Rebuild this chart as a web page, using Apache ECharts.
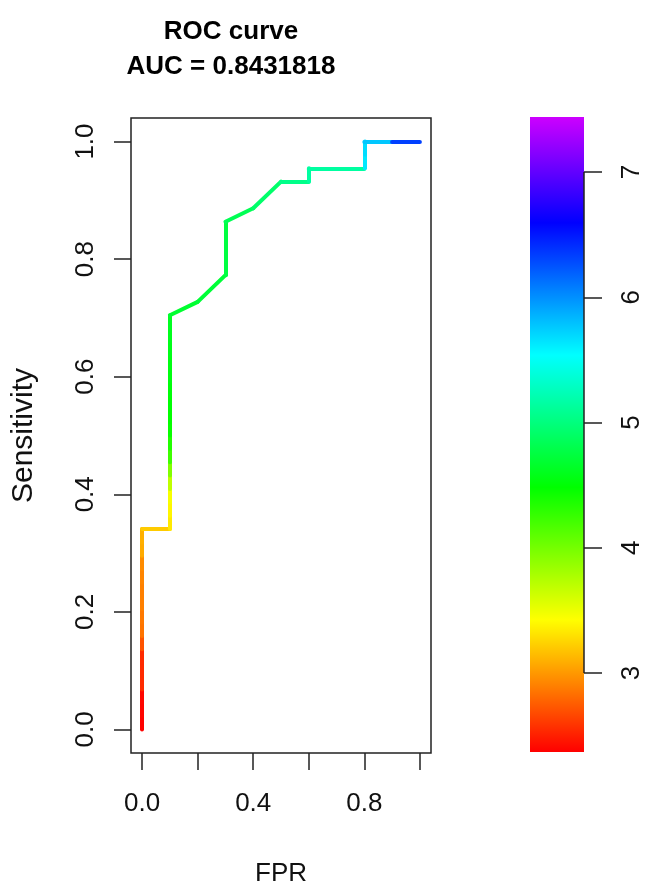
<!DOCTYPE html>
<html>
<head>
<meta charset="utf-8">
<script src="https://cdn.jsdelivr.net/npm/echarts@6/dist/echarts.min.js"></script>
<style>
html,body{margin:0;padding:0;background:#fff;}
#chart{width:646px;height:892px;}
</style>
</head>
<body>
<div id="chart"></div>
<script>
// ROC curve points (FPR, sensitivity) and the threshold score at each point
const fpr = [0,0,0,0,0,0,0,0,0,0,0,0,0,0,0,0,
  0.1,0.1,0.1,0.1,0.1,0.1,0.1,0.1,0.1,0.1,0.1,0.1,0.1,0.1,0.1,0.1,0.1,
  0.2,0.3,0.3,0.3,0.3,0.3,0.4,0.5,0.6,0.6,0.7,0.8,0.8,0.8,0.9,1.0];
const tpr = [0,0.0227,0.0455,0.0682,0.0909,0.1136,0.1364,0.1591,0.1818,0.2045,0.2273,0.25,0.2727,0.2955,0.3182,0.3409,
  0.3409,0.3636,0.3864,0.4091,0.4318,0.4545,0.4773,0.5,0.5227,0.5455,0.5682,0.5909,0.6136,0.6364,0.6591,0.6818,0.7045,
  0.7273,0.7727,0.7955,0.8182,0.8409,0.8636,0.8864,0.9318,0.9318,0.9545,0.9545,0.9545,0.9773,1.0,1.0,1.0];
const thresholds = [2.37,2.38,2.39,2.40,2.55,2.55,2.55,2.72,2.85,2.87,2.90,2.90,2.92,2.95,3.08,3.10,
  3.21,3.34,3.39,3.46,3.69,3.95,4.22,4.34,4.45,4.47,4.50,4.52,4.55,4.56,4.58,4.60,4.62,
  4.68,4.71,4.75,4.75,4.75,4.75,4.83,4.92,5.05,5.15,5.15,5.15,5.63,5.68,5.77,6.33];

const xTicks = [0,0.2,0.4,0.6,0.8,1.0];
const xLabels = [0,0.4,0.8];
const yTicks = [0,0.2,0.4,0.6,0.8,1.0];
const barTicks = [3,4,5,6,7];
const scoreRange = [2.37,7.44];
const titleText = 'ROC curve\nAUC = 0.8431818';

const MAXHUE = 288;
function hueColor(h){
  const hp = h/60, x = 1-Math.abs(hp%2-1);
  let r,g,b;
  if(hp<1){r=1;g=x;b=0;} else if(hp<2){r=x;g=1;b=0;} else if(hp<3){r=0;g=1;b=x;}
  else if(hp<4){r=0;g=x;b=1;} else if(hp<5){r=x;g=0;b=1;} else {r=1;g=0;b=x;}
  return 'rgb('+Math.round(r*255)+','+Math.round(g*255)+','+Math.round(b*255)+')';
}
function scoreColor(t){
  let f=(t-scoreRange[0])/(scoreRange[1]-scoreRange[0]);
  f=Math.max(0,Math.min(1,f));
  return hueColor(f*MAXHUE);
}

const segs = [];
for(let i=1;i<fpr.length;i++){
  segs.push({coords:[[fpr[i-1],tpr[i-1]],[fpr[i],tpr[i]]], lineStyle:{color:scoreColor(thresholds[i])}});
}

const stops=[];
for(let i=0;i<=48;i++){ stops.push({offset:i/48, color:hueColor(i/48*MAXHUE)}); }

const FONT = "'Liberation Sans', Arial, sans-serif";
const chart = echarts.init(document.getElementById('chart'), null, {renderer:'canvas'});
chart.setOption({
  backgroundColor:'#fff',
  animation:false,
  title:{
    text:titleText, left:226, top:9, textAlign:'center',
    textStyle:{fontFamily:FONT, fontWeight:'bold', fontSize:26, lineHeight:35, color:'#000'}
  },
  grid:[
    {left:131, top:118, width:300, height:635, show:true, borderColor:'#222', borderWidth:1.5, backgroundColor:'transparent'},
    {left:530, top:117, width:54, height:635, show:false}
  ],
  xAxis:[
    {gridIndex:0, type:'value', min:-0.04, max:1.04, position:'bottom',
     name:'FPR', nameLocation:'middle', nameGap:108,
     nameTextStyle:{fontFamily:FONT, fontSize:26, color:'#111'},
     axisLine:{show:false, onZero:false}, splitLine:{show:false},
     axisTick:{show:true, length:17, customValues:xTicks, lineStyle:{color:'#222', width:1.5}},
     axisLabel:{customValues:xLabels, margin:38, fontFamily:FONT, fontSize:26, color:'#111',
       formatter:v=>v.toFixed(1)}},
    {gridIndex:1, type:'value', min:0, max:1, show:false}
  ],
  yAxis:[
    {gridIndex:0, type:'value', min:-0.04, max:1.04, position:'left',
     name:'Sensitivity', nameLocation:'middle', nameGap:92, nameRotate:90,
     nameTextStyle:{fontFamily:FONT, fontSize:30, color:'#111'},
     axisLine:{show:false, onZero:false}, splitLine:{show:false},
     axisTick:{show:true, length:17, customValues:yTicks, lineStyle:{color:'#222', width:1.5}},
     axisLabel:{customValues:yTicks, rotate:90, margin:32, fontFamily:FONT, fontSize:26, color:'#111',
       formatter:v=>v.toFixed(1)}},
    {gridIndex:1, type:'value', min:scoreRange[0], max:scoreRange[1], position:'right',
     axisLine:{show:false, onZero:false}, splitLine:{show:false},
     axisTick:{show:true, length:18, customValues:barTicks, lineStyle:{color:'#222', width:1.5}},
     axisLabel:{customValues:barTicks, rotate:90, margin:35, fontFamily:FONT, fontSize:26, color:'#111'}}
  ],
  series:[
    {type:'lines', coordinateSystem:'cartesian2d', xAxisIndex:0, yAxisIndex:0, polyline:false, silent:true,
     lineStyle:{width:4, opacity:1, curveness:0, cap:'round', join:'round'}, data:segs, z:5},
    {type:'custom', xAxisIndex:1, yAxisIndex:1, silent:true,
     data:[[0,scoreRange[0],1,scoreRange[1]]],
     renderItem:function(params, api){
       const p0 = api.coord([api.value(0), api.value(1)]);
       const p1 = api.coord([api.value(2), api.value(3)]);
       return {type:'rect', shape:{x:p0[0], y:p1[1], width:p1[0]-p0[0], height:p0[1]-p1[1]},
         style:{fill:new echarts.graphic.LinearGradient(0,1,0,0,stops)}};
     }, z:2},
    {type:'line', xAxisIndex:1, yAxisIndex:1, silent:true, symbol:'none',
     data:[[1,barTicks[0]],[1,barTicks[barTicks.length-1]]],
     lineStyle:{color:'#222', width:1.5}, z:3}
  ]
});
</script>
</body>
</html>
